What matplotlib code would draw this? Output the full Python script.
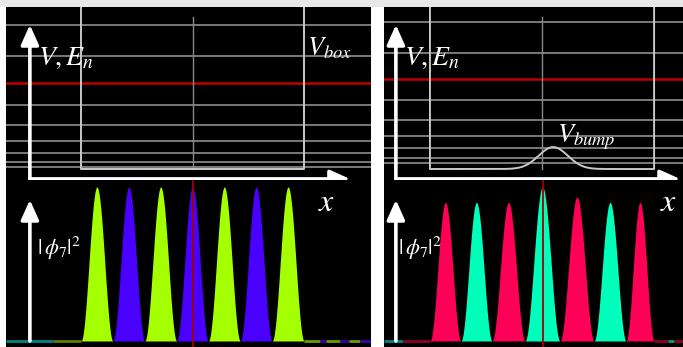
import numpy as np
import matplotlib
matplotlib.use('Agg')
import matplotlib.pyplot as plt

plt.rcParams['mathtext.fontset'] = 'stix'

# ---- data ----
# energy levels (arbitrary units, box floor = 0); index 6 is the n=7 level shown in red
levels_box = [1.3, 3.8, 8.9, 15.8, 24.9, 36.2, 48.6, 63.8, 81.4]
levels_bump = [3.4, 6.2, 11.9, 18.6, 27.7, 39.0, 50.8, 65.5, 83.1]
red_level = 6

# bump potential: centre, height, width (box units / energy units)
bump_center = 0.55
bump_height = 12.4
bump_width = 0.065

# |phi_7|^2 lobes: zero crossings and peak heights
zeros_box = [0.0, 0.143, 0.286, 0.429, 0.571, 0.714, 0.857, 1.0]
peaks_box = [1.0, 1.0, 1.0, 1.0, 1.0, 1.0, 1.0]
zeros_bump = [0.0, 0.138, 0.277, 0.424, 0.580, 0.732, 0.875, 1.0]
peaks_bump = [0.90, 0.90, 0.90, 1.0, 0.935, 0.90, 0.90]

box_colors = ['#a4ff00', '#4a00ff']
bump_colors = ['#ff0058', '#00ffbb']

W, H = 683, 347
fig = plt.figure(figsize=(W / 100, H / 100), dpi=100)
fig.patch.set_facecolor('white')


def ax_at(x0, y0, x1, y1):
    ax = fig.add_axes([x0 / W, 1 - y1 / H, (x1 - x0) / W, (y1 - y0) / H])
    ax.set_facecolor('black')
    ax.set_xticks([])
    ax.set_yticks([])
    for s in ax.spines.values():
        s.set_visible(False)
    return ax


# light grey strip at the very top
strip = fig.add_axes([0, 1 - 7 / H, 1, 7 / H])
strip.axis('off')
strip.add_patch(plt.Rectangle((0, 0), 1, 1, color='#e8e8e8', transform=strip.transAxes))

arrow_style = '-|>,head_length=0.6,head_width=0.27'


def arrow(ax, x0, y0, x1, y1):
    ax.annotate('', xy=(x1, y1), xytext=(x0, y0),
                arrowprops=dict(arrowstyle=arrow_style, color='white', lw=2.6,
                                mutation_scale=20, shrinkA=0, shrinkB=0),
                annotation_clip=False)


def panel(px0, px1, xlim, levels, zeros, peaks, colors, bump, arrow_x, arrow_tip,
          tails, vlabel_x, pot_label, pot_xy, x_label_x, phi_label_x):
    up = ax_at(px0, 7, px1, 180)
    lo = ax_at(px0, 180, px1, 347)
    up.set_xlim(*xlim)
    up.set_ylim(-6.2, 91.5)
    lo.set_xlim(*xlim)
    lo.set_ylim(-0.039, 1.045)

    # energy levels
    for i, e in enumerate(levels):
        if i == red_level:
            up.axhline(e, color='#c00000', lw=1.8, zorder=2)
        else:
            up.axhline(e, color='#7a7a7a', lw=1.4, zorder=1)

    # potential
    xs = np.linspace(0, 1, 400)
    v = np.zeros_like(xs)
    if bump:
        v = bump_height * np.exp(-0.5 * ((xs - bump_center) / bump_width) ** 2)
    top = 91.5
    up.plot(np.r_[0, 0, xs, 1, 1], np.r_[top, 0, v, 0, top], color='#c8c8c8', lw=1.4, zorder=3)
    up.plot([0.5, 0.5], [86, 0], color='#8a8a8a', lw=1.0, zorder=2)

    # axes arrows
    arrow(up, arrow_x, -5.6, arrow_x, 81.4)
    arrow(up, arrow_x, -5.6, arrow_tip, -5.6)
    arrow(lo, arrow_x, 0, arrow_x, 0.916)

    up.text(vlabel_x, 58.8, r'$V, E_n$', color='white', fontsize=20, va='baseline')
    up.text(pot_xy[0], pot_xy[1], pot_label, color='white', fontsize=19, va='baseline')
    lo.text(x_label_x, 0.90, r'$x$', color='white', fontsize=23, ha='center', va='center')
    lo.text(phi_label_x, 0.60, r'$|\,\phi_7|^2$', color='white', fontsize=16, va='center')

    # probability density lobes
    for k in range(len(peaks)):
        a, b = zeros[k], zeros[k + 1]
        xx = np.linspace(a, b, 80)
        yy = peaks[k] * np.sin(np.pi * (xx - a) / (b - a)) ** 2
        lo.fill_between(xx, 0, yy, color=colors[k % 2], lw=0, zorder=2)

    # tails of the wave function along the baseline
    for (a, b, c) in tails:
        lo.plot([a, b], [0, 0], color=c, lw=2, zorder=1, solid_capstyle='butt')

    lo.axvline(0.5 if not bump else 0.504, color='#a00000', lw=1.3, zorder=3)


panel(6, 371, (-0.336, 1.300), levels_box, zeros_box, peaks_box, box_colors, False,
      -0.229, 1.206,
      [(-0.336, -0.126, '#008585'), (-0.126, 0.0, '#5e7d00'),
       (1.0, 1.07, '#6a9a00'), (1.07, 1.10, '#3a00b0'), (1.10, 1.16, '#6a9a00'),
       (1.16, 1.20, '#3a00b0'), (1.20, 1.25, '#6a9a00'), (1.25, 1.30, '#3a00b0')],
      -0.193, r'$V_{box}$', (1.013, 64.4), 1.103, -0.197)

panel(384, 683, (-0.205, 1.129), levels_bump, zeros_bump, peaks_bump, bump_colors, True,
      -0.152, 1.116,
      [(-0.205, -0.121, '#008585'), (-0.121, 0.0, '#8a0030'),
       (1.0, 1.06, '#8a0030'), (1.06, 1.09, '#00a080'), (1.09, 1.129, '#8a0030')],
      -0.116, r'$V_{bump}$', (0.567, 15.3), 1.0625, -0.143)

fig.savefig('out.png', dpi=100, facecolor='white')
